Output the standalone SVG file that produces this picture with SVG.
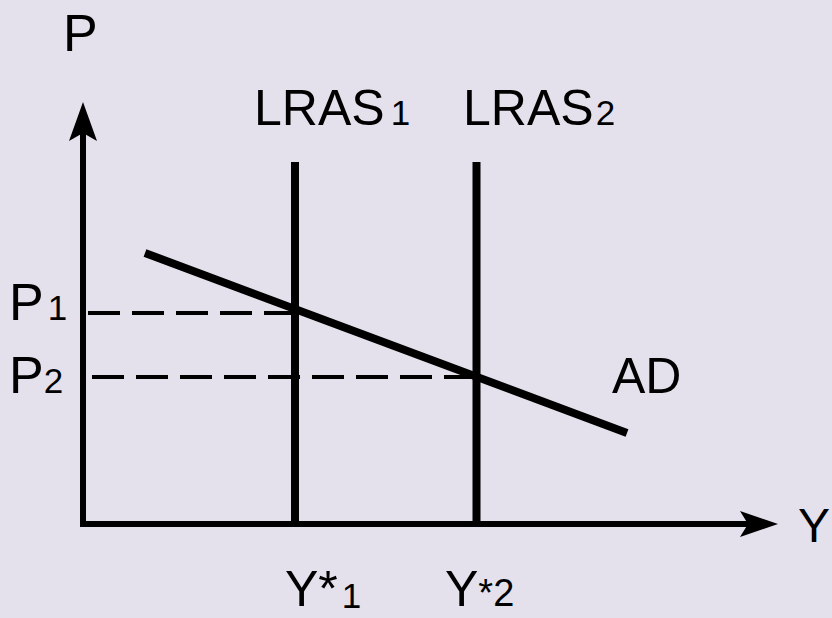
<svg xmlns="http://www.w3.org/2000/svg" width="832" height="618" viewBox="0 0 832 618">
<style>
text{font-family:"Liberation Sans",Arial,sans-serif;fill:#000}
.big{font-size:52px}
.lbl{font-size:50px}
.sub{font-size:35px}
.ax{stroke:#000;stroke-width:6;fill:none}
.thick{stroke:#000;stroke-width:8;fill:none}
.dash{stroke:#000;stroke-width:4;fill:none;stroke-dasharray:32 12}
</style>
<rect width="832" height="618" fill="#E4E0EC"/>
<g id="connectors">
<line class="ax" x1="83" y1="526" x2="83" y2="125"/>
<path d="M83,102 L97,141 L83,133 L69,141 Z" fill="#000"/>
<line class="ax" x1="80" y1="524" x2="755" y2="524"/>
<path d="M778,524 L740,511 L748,524 L740,537 Z" fill="#000"/>
<line class="dash" x1="88" y1="313" x2="295" y2="313"/>
<line class="dash" x1="92" y1="377" x2="477" y2="377"/>
</g>
<g id="lras1">
<line class="thick" x1="295" y1="162" x2="295" y2="524"/>
<text x="254" y="125" class="lbl">LRAS<tspan class="sub" dx="6">1</tspan></text>
</g>
<g id="lras2">
<line class="thick" x1="476.5" y1="162" x2="476.5" y2="524"/>
<text x="463" y="125" class="lbl">LRAS<tspan class="sub" dx="2">2</tspan></text>
</g>
<g id="ad">
<line class="thick" x1="145" y1="253" x2="627" y2="433"/>
<text x="612" y="393" class="lbl">AD</text>
</g>
<g id="labels">
<text x="63" y="51" class="big">P</text>
<text x="798" y="542" style="font-size:48px">Y</text>
<text x="9" y="320" class="big">P<tspan class="sub" dx="4">1</tspan></text>
<text x="9" y="393" class="big">P<tspan class="sub">2</tspan></text>
<text x="285" y="606" class="lbl">Y*<tspan class="sub" dx="4" dy="2">1</tspan></text>
<text x="445" y="606" class="lbl">Y<tspan style="font-size:38px">*2</tspan></text>
</g>
</svg>
